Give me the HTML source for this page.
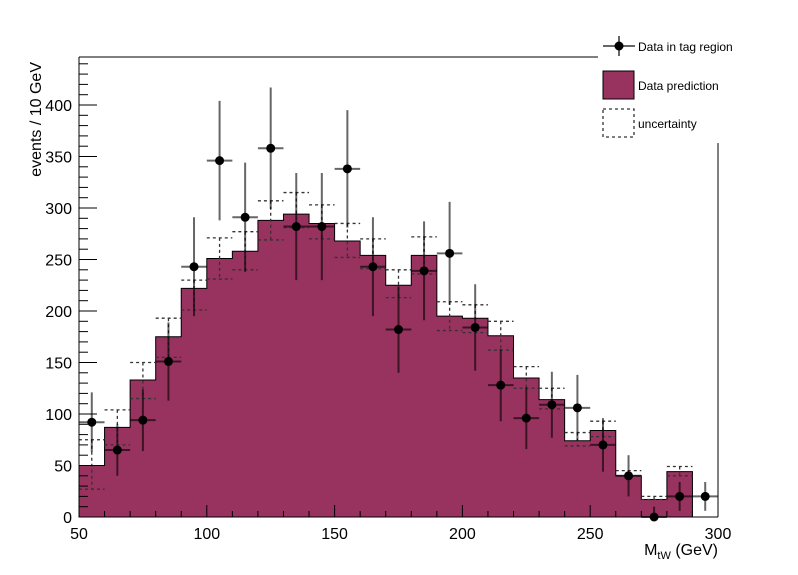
<!DOCTYPE html>
<html><head><meta charset="utf-8"><style>
body{margin:0;background:#fff}
svg{display:block;font-family:"Liberation Sans",sans-serif}
</style></head><body>
<svg id="c" width="798" height="575"></svg>
<script>
const binEdges=[50,60,70,80,90,100,110,120,130,140,150,160,170,180,190,200,210,220,230,240,250,260,270,280,290];
const predValues=[50,87,133,175,222,251,258,288,294,285,268,254,225,254,195,193,176,135,114,74,84,40,17,44,0];
const uncUp=[75,104,150,193,230,271,277,307,315,303,285,270,240,272,209,206,190,146,125,82,93,45,20,49,0];
const uncDown=[27,70,115,155,201,231,240,269,281,270,252,241,213,236,181,179,162,125,105,69,78,40,17,40,0];
const dataX=[55,65,75,85,95,105,115,125,135,145,155,165,175,185,195,205,215,225,235,245,255,265,275,285,295];
const dataY=[92,65,94,151,243,346,291,358,282,282,338,243,182,239,256,184,128,96,109,106,70,40,0,20,20];
const dataErr=[29,25,30,38,48,58,53,59,52,52,57,48,42,48,50,42,35,30,32,32,26,20,10,14,14];
const xTicks=[50,100,150,200,250,300];
const yTicks=[0,50,100,150,200,250,300,350,400];

const X0=79,X1=718,Y0=517;
const sx=v=>X0+(v-50)*(X1-X0)/250;
const sy=v=>Y0-v*1.03;
const svg=document.getElementById('c');
const NS='http://www.w3.org/2000/svg';
function mk(tag,at,parent){const e=document.createElementNS(NS,tag);for(const k in at)e.setAttribute(k,at[k]);(parent||svg).appendChild(e);return e;}

// histogram fill
let d='M'+sx(50)+','+sy(0);
for(let i=0;i<binEdges.length;i++){d+=' L'+sx(binEdges[i])+','+sy(predValues[i])+' L'+sx(binEdges[i]+10)+','+sy(predValues[i]);}
d+=' L'+sx(300)+','+sy(0)+' Z';
const h=mk('path',{d:d,fill:'#98325f',stroke:'#000','stroke-width':1});



// uncertainty
const ug=mk('g',{stroke:'#333','stroke-width':1.3,'stroke-dasharray':'3,3',fill:'none'});


for(let i=0;i<binEdges.length;i++){
  if(uncUp[i]<=0)continue;
  const a=sx(binEdges[i]),b=sx(binEdges[i]+10),m=(a+b)/2;
  mk('line',{x1:a,x2:b,y1:sy(uncUp[i]),y2:sy(uncUp[i])},ug);
  mk('line',{x1:a,x2:b,y1:sy(uncDown[i]),y2:sy(uncDown[i])},ug);
  mk('line',{x1:m,x2:m,y1:sy(uncUp[i]),y2:sy(uncDown[i])},ug);
}

// data points
const dg=mk('g',{});


for(let i=0;i<dataX.length;i++){
  const x=sx(dataX[i]),y=sy(dataY[i]);
  mk('line',{x1:x,x2:x,y1:sy(dataY[i]+dataErr[i]),y2:sy(Math.max(0,dataY[i]-dataErr[i])),stroke:'#000','stroke-opacity':0.6,'stroke-width':2},dg);
  mk('line',{x1:sx(dataX[i]-5),x2:sx(dataX[i]+5),y1:y,y2:y,stroke:'#000','stroke-opacity':0.6,'stroke-width':2},dg);
  const p=mk('circle',{cx:x,cy:y,r:4.5,fill:'#000'},dg);
  
  
}

// frame
mk('line',{x1:X0,x2:598,y1:57,y2:57,stroke:'#000','stroke-width':1});
mk('line',{x1:X1,x2:X1,y1:143,y2:Y0,stroke:'#000','stroke-width':1});
const ax=mk('g',{stroke:'#000','stroke-width':1});


mk('line',{x1:X0,x2:X0,y1:57,y2:Y0},ax);
mk('line',{x1:X0,x2:X1,y1:Y0,y2:Y0},ax);
for(let v=0;v<=440;v+=10){const y=sy(v);if(y<57)break;mk('line',{x1:X0,x2:X0+(v%50===0?18:9),y1:y,y2:y},ax);}
for(let v=50;v<=300;v+=10){const x=sx(v);mk('line',{x1:x,x2:x,y1:Y0,y2:Y0-(v%50===0?12:6)},ax);}
yTicks.forEach(v=>{const t=mk('text',{x:72,y:sy(v)+6,'text-anchor':'end','font-size':16});t.textContent=v;
  });
xTicks.forEach(v=>{const t=mk('text',{x:sx(v),y:539,'text-anchor':'middle','font-size':16});t.textContent=v;
  });
const yt=mk('text',{x:0,y:0,transform:'translate(41,62) rotate(-90)','text-anchor':'end','font-size':16});
yt.textContent='events / 10 GeV';

const xt=mk('text',{x:718,y:555,'text-anchor':'end','font-size':16});
xt.innerHTML='M<tspan font-size="11" dy="4">tW</tspan><tspan dy="-4"> (GeV)</tspan>';


// legend
const lg=mk('g',{});


mk('line',{x1:603,x2:635,y1:46,y2:46,stroke:'#000','stroke-opacity':0.6,'stroke-width':2},lg);
mk('line',{x1:619,x2:619,y1:36,y2:56,stroke:'#000','stroke-opacity':0.6,'stroke-width':2},lg);
mk('circle',{cx:619,cy:46,r:4.5,fill:'#000'},lg);
mk('rect',{x:603,y:71,width:31,height:28,fill:'#98325f',stroke:'#000'},lg);
mk('rect',{x:603,y:109,width:31,height:28,fill:'none',stroke:'#333','stroke-dasharray':'3,3','stroke-width':1.3},lg);
[['Data in tag region',51],['Data prediction',90],['uncertainty',128]].forEach(([s,y])=>{
  const t=mk('text',{x:638,y:y,'font-size':12},lg);t.textContent=s;
  });
</script>
</body></html>
